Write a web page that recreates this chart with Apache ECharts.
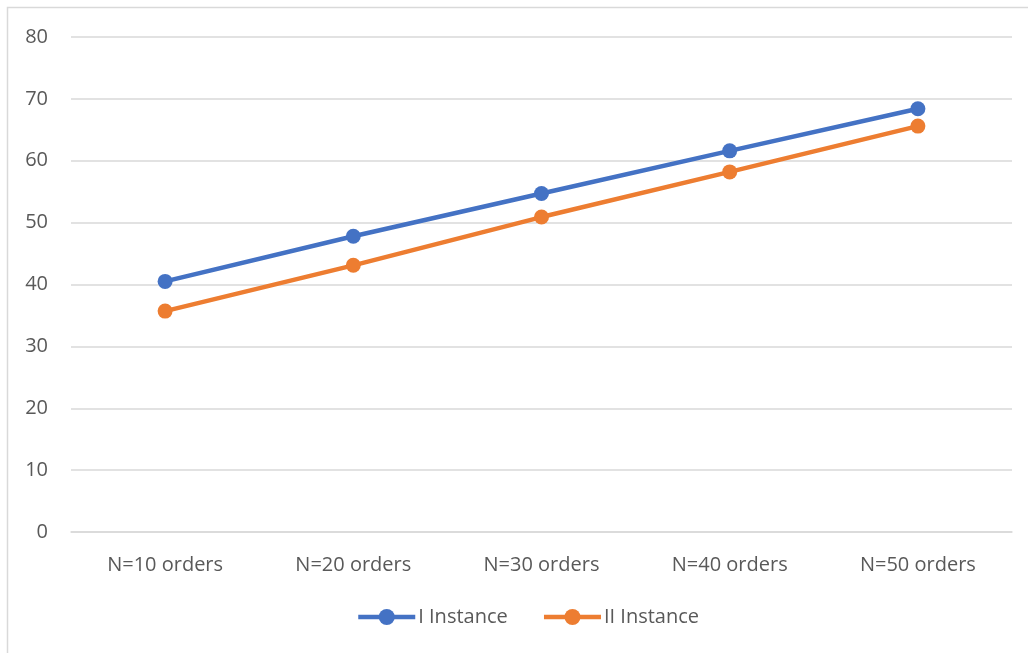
<!DOCTYPE html>
<html>
<head>
<meta charset="utf-8">
<script src="https://cdn.jsdelivr.net/npm/echarts@6/dist/echarts.min.js"></script>
<style>
  html, body { margin: 0; padding: 0; background: #fff; }
  #chart { width: 1028px; height: 653px; }
</style>
</head>
<body>
<div id="chart"></div>
<script>
// Order-count scenarios along the horizontal axis
const categories = ['N=10 orders', 'N=20 orders', 'N=30 orders', 'N=40 orders', 'N=50 orders'];
// Results for each instance
const instanceI = [40.5, 47.8, 54.7, 61.6, 68.4];
const instanceII = [35.7, 43.1, 50.9, 58.2, 65.6];
const seriesNames = ['I Instance', 'II Instance'];

const textColor = '#595959';
const gridColor = '#d9d9d9';
const font = '"Open Sans", "Liberation Sans", sans-serif';

const chart = echarts.init(document.getElementById('chart'), null, { renderer: 'canvas' });

function lineSeries(name, data, color) {
  return {
    name: name,
    type: 'line',
    data: data,
    symbol: 'circle',
    symbolSize: 15,
    lineStyle: { color: color, width: 4.5 },
    itemStyle: { color: color },
    emphasis: { disabled: true },
    animation: false
  };
}

chart.setOption({
  animation: false,
  graphic: [{
    type: 'rect',
    shape: { x: 7.5, y: 7.5, width: 1100, height: 700 },
    style: { fill: 'none', stroke: gridColor, lineWidth: 1.5 },
    silent: true
  }],
  grid: { left: 71, right: 16, top: 37, bottom: 121, containLabel: false },
  legend: {
    data: seriesNames,
    bottom: 26,
    left: 356,
    padding: 0,
    itemWidth: 57,
    itemHeight: 20,
    itemGap: 34,
    itemStyle: { borderWidth: 0 },
    lineStyle: { width: 4.5 },
    textStyle: { color: textColor, fontFamily: font, fontSize: 20, padding: [0, 0, 0, -2] }
  },
  xAxis: {
    type: 'category',
    data: categories,
    boundaryGap: true,
    axisLine: { show: true, lineStyle: { color: gridColor, width: 1.5 } },
    axisTick: { show: false },
    axisLabel: { color: textColor, fontFamily: font, fontSize: 20, margin: 23 }
  },
  yAxis: {
    type: 'value',
    min: 0,
    max: 80,
    interval: 10,
    axisLine: { show: false },
    axisTick: { show: false },
    splitLine: { lineStyle: { color: gridColor, width: 1.5 } },
    axisLabel: { color: textColor, fontFamily: font, fontSize: 20, margin: 23 }
  },
  series: [
    lineSeries(seriesNames[0], instanceI, '#4472C4'),
    lineSeries(seriesNames[1], instanceII, '#ED7D31')
  ]
});
</script>
</body>
</html>
